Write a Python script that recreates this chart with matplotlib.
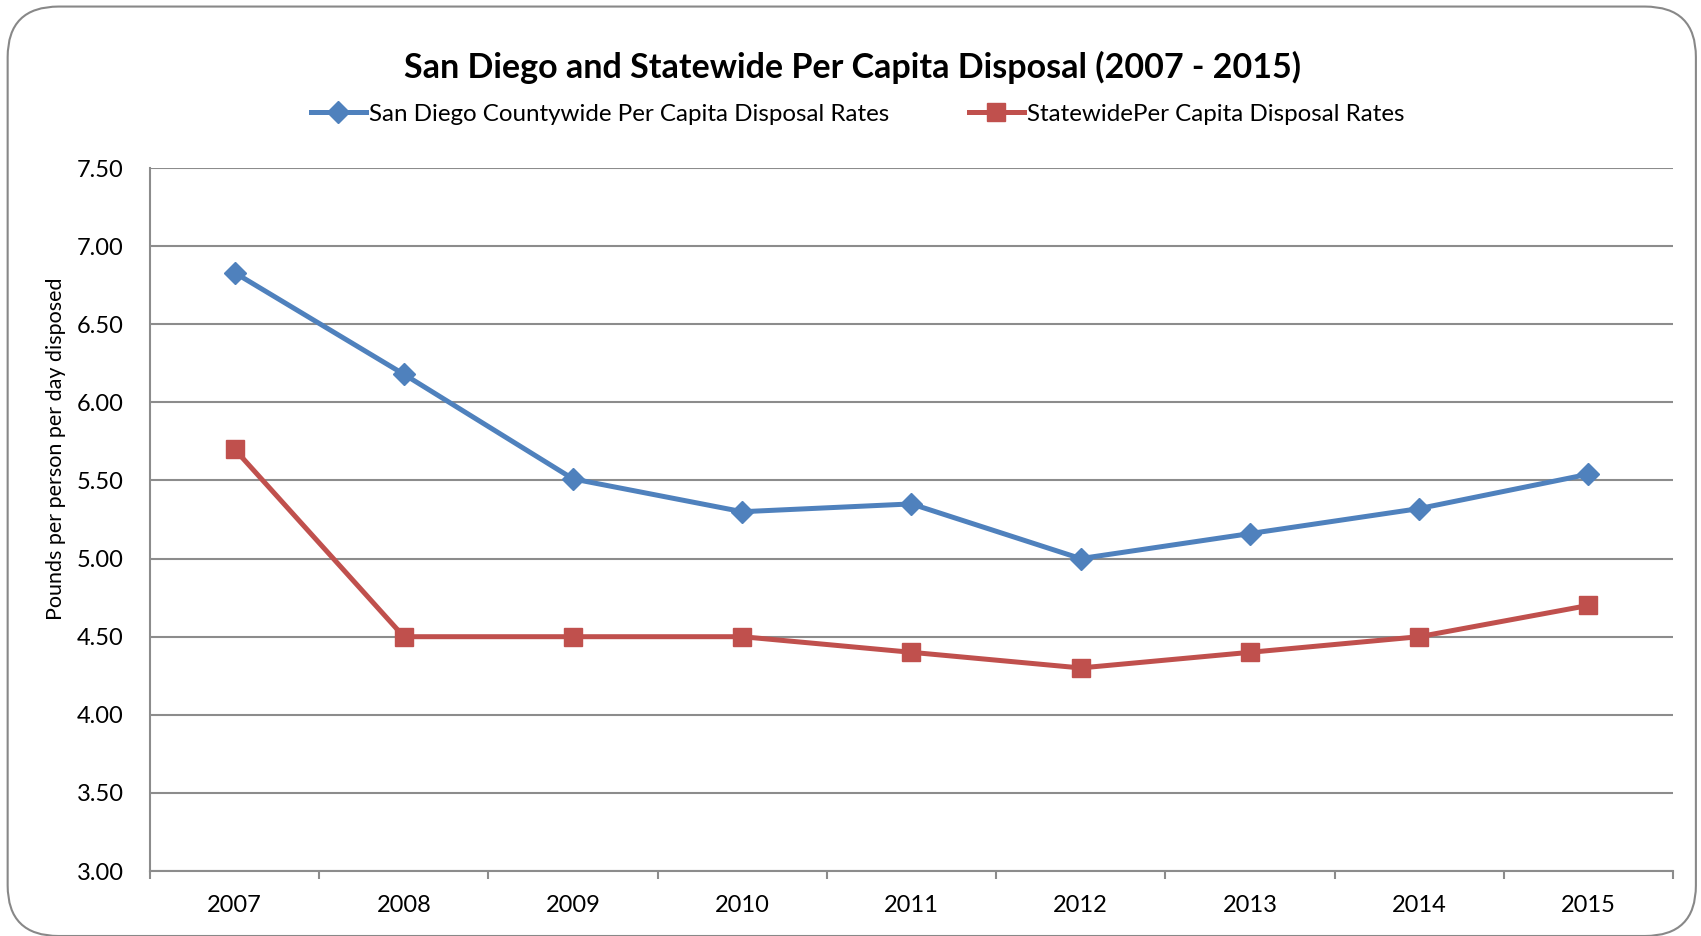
import matplotlib.pyplot as plt
from matplotlib.patches import FancyBboxPatch
from matplotlib.ticker import FixedLocator

plt.rcParams['font.family'] = ['Lato', 'DejaVu Sans']

# --- data ---
years = ['2007', '2008', '2009', '2010', '2011', '2012', '2013', '2014', '2015']
san_diego = [6.83, 6.18, 5.51, 5.30, 5.35, 5.00, 5.16, 5.32, 5.54]
statewide = [5.70, 4.50, 4.50, 4.50, 4.40, 4.30, 4.40, 4.50, 4.70]
yticks = [3.0, 3.5, 4.0, 4.5, 5.0, 5.5, 6.0, 6.5, 7.0, 7.5]

blue = '#4F81BD'
red = '#C0504D'
grid_col = '#8C8C8C'

fig = plt.figure(figsize=(17.01, 9.36), dpi=100)
ax = fig.add_axes([0.0882, 0.0694, 0.8953, 0.7511])

x = list(range(len(years)))
ax.plot(x, san_diego, color=blue, lw=3.6, marker='D', ms=11.5,
        label='San Diego Countywide Per Capita Disposal Rates')
ax.plot(x, statewide, color=red, lw=3.6, marker='s', ms=13,
        label='StatewidePer Capita Disposal Rates')

ax.set_xlim(-0.5, len(years) - 0.5)
ax.set_ylim(3.0, 7.5)
ax.set_yticks(yticks)
ax.set_yticklabels([f'{v:.2f}' for v in yticks])
ax.set_xticks(x)
ax.set_xticklabels(years)
ax.xaxis.set_minor_locator(FixedLocator([i - 0.5 for i in range(len(years) + 1)]))

ax.tick_params(axis='x', which='major', length=0, pad=17, labelsize=17)
ax.tick_params(axis='x', which='minor', length=6, width=1.5, color=grid_col)
ax.tick_params(axis='y', length=0, pad=19, labelsize=17)

ax.grid(axis='y', color=grid_col, lw=1.5)
ax.set_axisbelow(True)
for s in ['top', 'right']:
    ax.spines[s].set_visible(False)
for s in ['left', 'bottom']:
    ax.spines[s].set_color(grid_col)
    ax.spines[s].set_linewidth(1.5)

fig.text(0.033, 0.521, 'Pounds per person per day disposed', rotation=90,
         ha='center', va='center', fontsize=15.5)
fig.text(0.501, 0.928, 'San Diego and Statewide Per Capita Disposal (2007 - 2015)',
         ha='center', va='center', fontsize=24.5, fontweight='bold')
fig.legend(loc='center', bbox_to_anchor=(0.504, 0.878), ncol=2, frameon=False,
           fontsize=17.4, handlelength=2.3, handletextpad=0.1, columnspacing=3.3)

border = FancyBboxPatch((0.0045, 0.0), 0.9925, 0.993, boxstyle='round,pad=0,rounding_size=0.03',
                        transform=fig.transFigure, fill=False, edgecolor='#888888', lw=1.5,
                        mutation_aspect=1.8)
fig.patches.append(border)

fig.savefig('out.png', dpi=100)
